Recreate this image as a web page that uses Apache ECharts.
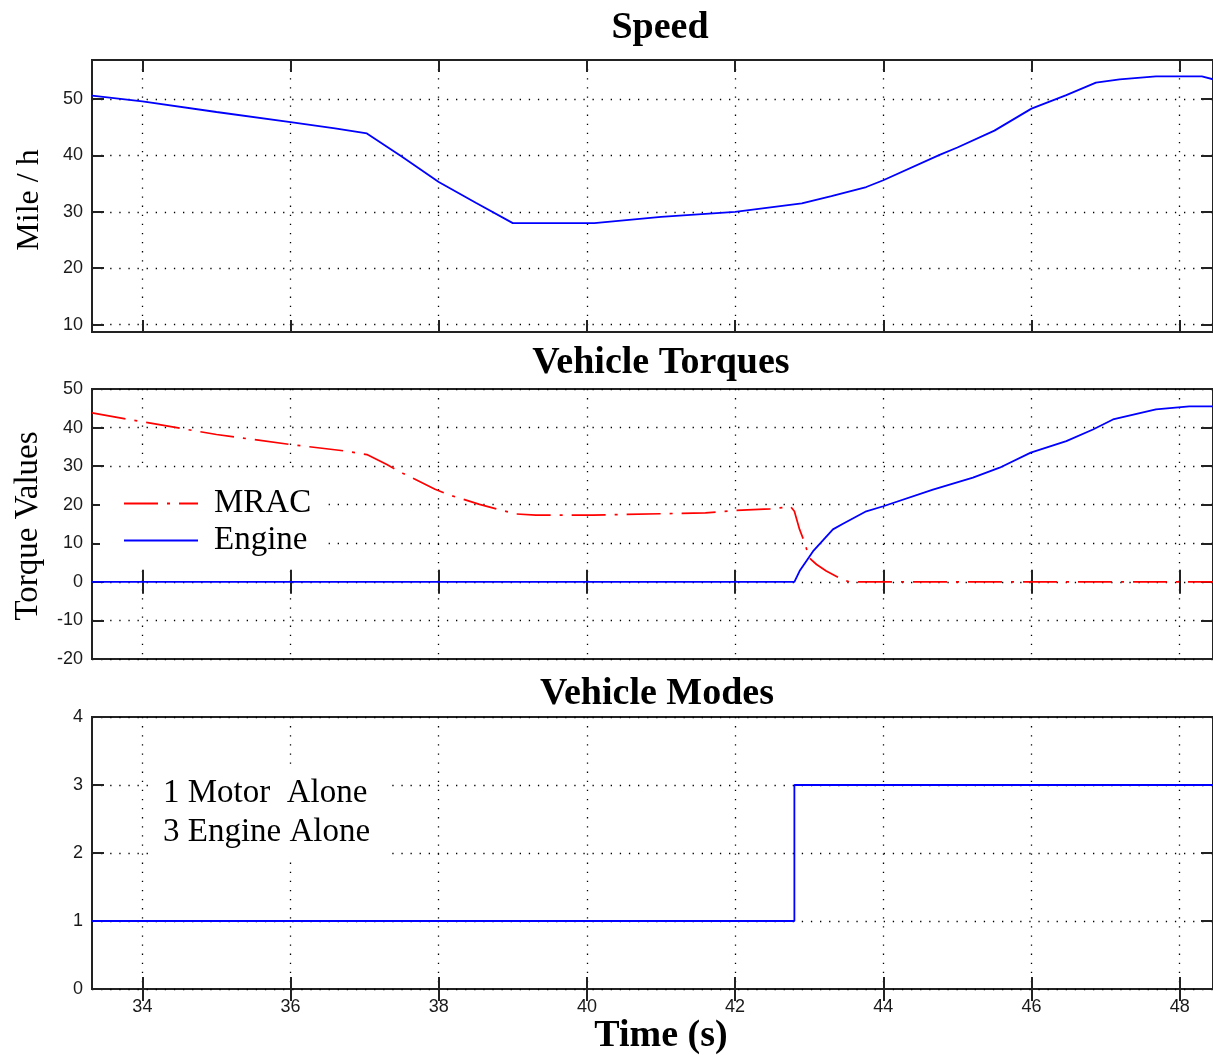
<!DOCTYPE html>
<html>
<head>
<meta charset="utf-8">
<script src="https://cdn.jsdelivr.net/npm/echarts@6/dist/echarts.min.js"></script>
<style>
  html, body { margin: 0; padding: 0; background: #fff; }
  #chart { width: 1213px; height: 1055px; }
</style>
</head>
<body>
<div id="chart"></div>
<script>
// Time window shared by the three panels (s)
const timeMin = 33.32;
const timeMax = 48.45;
const timeTicks = [34, 36, 38, 40, 42, 44, 46, 48];

// Speed panel
const speedTicks = [10, 20, 30, 40, 50];
const speedTime = [33.32, 34, 35, 36, 36.6, 37.03, 37.5, 38, 38.5, 39.0, 40.1, 41, 42, 42.9, 43.3, 43.77, 44, 44.76, 45.0, 45.5, 46, 46.47, 46.87, 47.19, 47.68, 48.3, 48.45];
const speedMph = [50.6, 49.6, 47.7, 45.9, 44.8, 43.9, 39.8, 35.3, 31.6, 28.0, 28.0, 29.1, 30.0, 31.5, 32.8, 34.4, 35.6, 40.1, 41.4, 44.4, 48.3, 50.7, 52.9, 53.5, 54.0, 54.0, 53.5];

// Torque panel
const mracTime = [33.32, 34, 35, 36, 36.75, 37.03, 37.3, 37.52, 37.95, 38.13, 38.55, 39.04, 39.31, 40.08, 41.6, 42.01, 42.47, 42.75, 42.8, 42.87, 42.94, 43.0, 43.1, 43.23, 43.41, 43.54, 48.45];
const mracTorque = [43.8, 41.5, 38.2, 35.6, 33.9, 33.0, 30.4, 28.1, 24.0, 22.6, 20.1, 17.6, 17.3, 17.3, 17.9, 18.5, 18.9, 19.5, 18.3, 13.6, 10.1, 6.2, 4.5, 2.8, 1.0, 0, 0];
const engineTime = [33.32, 42.8, 42.87, 43.05, 43.32, 43.45, 43.77, 44, 44.67, 45.21, 45.57, 45.99, 46.47, 46.83, 47.1, 47.68, 48.13, 48.45];
const engineTorque = [0, 0, 2.8, 7.9, 13.6, 15.0, 18.3, 19.6, 23.9, 27.0, 29.6, 33.5, 36.5, 39.5, 42.1, 44.7, 45.5, 45.5];

// Mode panel (1 = motor alone, 3 = engine alone)
const modeTime = [33.32, 42.8, 48.45];
const modeValue = [1, 3, 3];

const pairs = (xs, ys) => xs.map((x, i) => [x, ys[i]]);

const frameColor = '#222';
const dotted = { color: '#000', width: 1.3, type: [1.3, 7.8] };
const tickStyle = { show: true, inside: true, length: 12, lineStyle: { color: frameColor, width: 2 } };
const tickFont = { fontFamily: 'Liberation Sans', fontSize: 18, color: '#1a1a1a' };
const serif = '"Liberation Serif", "DejaVu Serif", serif';

const grids = [
  { left: 92, top: 60, width: 1122, height: 272 },
  { left: 92, top: 389, width: 1122, height: 270 },
  { left: 92, top: 717, width: 1122, height: 272 }
].map(g => Object.assign(g, { show: true, borderColor: frameColor, borderWidth: 2, backgroundColor: 'transparent' }));

// bottom + top time axes for each panel
const xAxes = [];
[0, 1, 2].forEach(gi => {
  xAxes.push({
    type: 'value', gridIndex: gi, position: 'bottom', min: timeMin, max: timeMax,
    axisLine: { show: false },
    axisTick: Object.assign({ customValues: timeTicks }, tickStyle),
    axisLabel: Object.assign({ show: gi === 2, customValues: timeTicks, margin: 9 }, tickFont),
    splitLine: { show: true, lineStyle: dotted }
  });
  xAxes.push({
    type: 'value', gridIndex: gi, position: 'top', min: timeMin, max: timeMax,
    axisLine: { show: false },
    axisTick: Object.assign({ customValues: timeTicks }, tickStyle),
    axisLabel: { show: false, customValues: timeTicks },
    splitLine: { show: false }
  });
});

function yPair(gi, extra) {
  const left = Object.assign({
    type: 'value', gridIndex: gi, position: 'left',
    axisLine: { show: false },
    axisTick: Object.assign({}, tickStyle),
    axisLabel: Object.assign({ margin: 9 }, tickFont),
    splitLine: { show: true, lineStyle: dotted }
  }, extra);
  if (extra.customValues) {
    left.axisTick.customValues = extra.customValues;
    left.axisLabel.customValues = extra.customValues;
  }
  const right = Object.assign({}, left, {
    position: 'right',
    axisLabel: { show: false, customValues: extra.customValues },
    splitLine: { show: false }
  });
  delete left.customValues;
  delete right.customValues;
  return [left, right];
}

const yAxes = [].concat(
  yPair(0, { min: 8.69, max: 56.92, customValues: speedTicks }),
  yPair(1, { min: -20, max: 50, interval: 10 }),
  yPair(2, { min: 0, max: 4, interval: 1 })
);

const titleFont = 'bold 38px ' + serif;
function centeredText(txt, x, y, font, rot) {
  return {
    type: 'text', x: x, y: y, rotation: rot || 0, z: 20,
    style: { text: txt, font: font, fill: '#000', align: 'center', verticalAlign: 'middle', textAlign: 'center', textVerticalAlign: 'middle' }
  };
}

const option = {
  animation: false,
  backgroundColor: '#fff',
  grid: grids,
  xAxis: xAxes,
  yAxis: yAxes,
  legend: {
    data: ['MRAC', 'Engine'],
    orient: 'vertical',
    left: 100, top: 471,
    padding: [14, 17, 5, 23],
    itemWidth: 74, itemHeight: 20, itemGap: 0,
    backgroundColor: '#fff',
    selectedMode: false,
    itemStyle: { color: 'rgba(0,0,0,0)', borderColor: 'rgba(0,0,0,0)', borderWidth: 0 },
    textStyle: { fontFamily: serif, fontSize: 33, color: '#000', lineHeight: 37, padding: [0, 0, 0, 11] }
  },
  graphic: [
    centeredText('Speed', 660, 28, titleFont),
    centeredText('Vehicle Torques', 661, 363, titleFont),
    centeredText('Vehicle Modes', 657, 694, titleFont),
    centeredText('Time (s)', 661, 1036, titleFont),
    centeredText('Mile / h', 30, 200, '32px ' + serif, Math.PI / 2),
    centeredText('Torque Values', 28, 526, '33px ' + serif, Math.PI / 2),
    {
      type: 'text', x: 155, y: 766, z: 10,
      style: {
        text: '1 Motor  Alone\n3 Engine Alone',
        font: '33px ' + serif, fill: '#000', lineHeight: 39,
        backgroundColor: '#fff', padding: [8, 18, 8, 8]
      }
    }
  ],
  series: [
    {
      name: 'Speed', type: 'line', xAxisIndex: 0, yAxisIndex: 0,
      data: pairs(speedTime, speedMph), symbol: 'none',
      lineStyle: { color: '#0000ff', width: 1.8 }, itemStyle: { color: '#0000ff' }
    },
    {
      name: 'MRAC', type: 'line', xAxisIndex: 2, yAxisIndex: 2,
      data: pairs(mracTime, mracTorque), symbol: 'none',
      lineStyle: { color: '#ff0000', width: 1.7, type: [34, 9, 3, 9] }, itemStyle: { color: '#ff0000' }
    },
    {
      name: 'Engine', type: 'line', xAxisIndex: 2, yAxisIndex: 2,
      data: pairs(engineTime, engineTorque), symbol: 'none',
      lineStyle: { color: '#0000ff', width: 1.8 }, itemStyle: { color: '#0000ff' }
    },
    {
      name: 'Mode', type: 'line', xAxisIndex: 4, yAxisIndex: 4, step: 'end',
      data: pairs(modeTime, modeValue), symbol: 'none',
      lineStyle: { color: '#0000ff', width: 1.8 }, itemStyle: { color: '#0000ff' }
    }
  ]
};

const chart = echarts.init(document.getElementById('chart'), null, { renderer: 'canvas' });
chart.setOption(option);
</script>
</body>
</html>
